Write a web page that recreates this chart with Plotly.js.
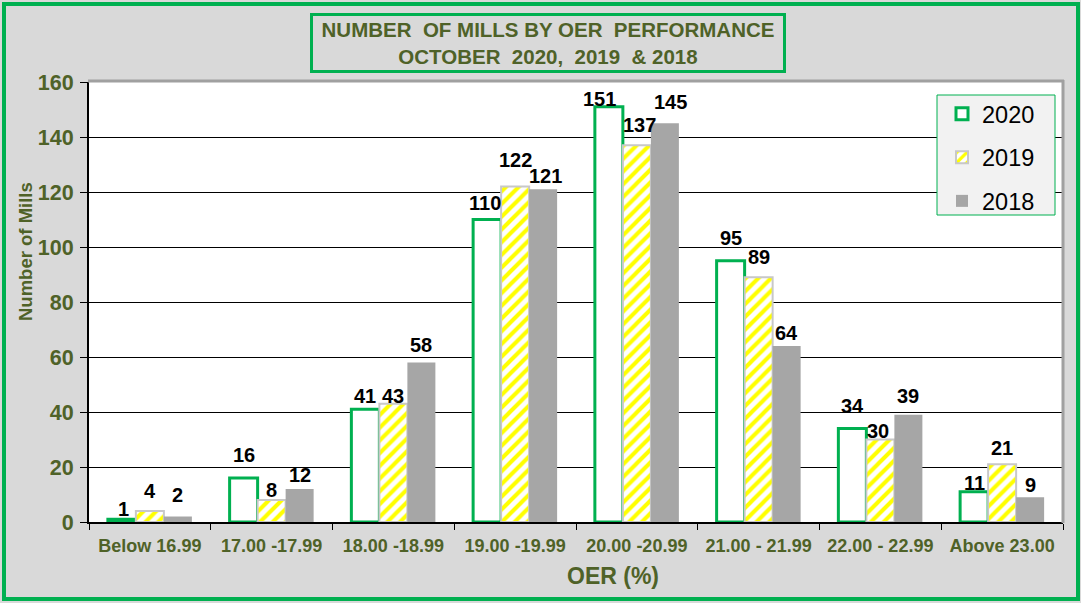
<!DOCTYPE html>
<html>
<head>
<meta charset="utf-8">
<script src="https://cdn.plot.ly/plotly-3.0.1.min.js"></script>
<style>
html,body{margin:0;padding:0;background:#d9d9d9;}
#chart{width:1081px;height:603px;}
</style>
</head>
<body>
<div id="chart"></div>
<script>
const categories = ["Below 16.99", "17.00 -17.99", "18.00 -18.99", "19.00 -19.99", "20.00 -20.99", "21.00 - 21.99", "22.00 - 22.99", "Above 23.00"];
const values2020 = [1, 16, 41, 110, 151, 95, 34, 11];
const values2019 = [4, 8, 43, 122, 137, 89, 30, 21];
const values2018 = [2, 12, 58, 121, 145, 64, 39, 9];
const seriesNames = ["2020", "2019", "2018"];
const yTicks = [0, 20, 40, 60, 80, 100, 120, 140, 160];

// label placement (style): pixels the label centre sits above its bar top, and sideways nudges
const labelLift2020 = [10, 23, 13, 17, 8, 23, 23, 9];
const labelLift2019 = [20, 10, 8, 27, 20, 20, 9, 16];
const labelLift2018 = [22, 14, 18, 13, 21, 13, 19, 12];
const labelNudge2020 = [2, 0, 0, -2, -9, 0, 0, 0];
const labelNudge2019 = [0, 0, 0, 0, 3, 0, -2, 0];
const labelNudge2018 = [0, 0, 0, 2, 6, 0, 0, 0];

const W = 1081, H = 603;
const L = 89, R = 18, T = 82, B = 81;
const PW = W - L - R, PH = H - T - B;
const px = x => (x - L) / PW;
const py = y => (H - B - y) / PH;
const BARGAP = 0.31;
const barPx = PW / categories.length * (1 - BARGAP) / 3;

const olive = '#4f6228';
const green = '#00b050';
const FF = 'Arial, Liberation Sans, sans-serif';
const labelFont = {family: FF, size: 20, color: '#000000', weight: 'bold'};

const traces = [
  {type: 'bar', x: categories, y: values2020, name: seriesNames[0], legendgroup: 'a', hoverinfo: 'skip',
   marker: {color: '#ffffff', line: {color: green, width: 3}}},
  {type: 'bar', x: categories, y: values2019, name: seriesNames[1], legendgroup: 'b', hoverinfo: 'skip',
   marker: {color: '#ffff00', line: {color: '#c8c8c8', width: 2},
     pattern: {shape: '/', fgcolor: '#ffff00', bgcolor: '#ffffff', size: 9, solidity: 0.45}}},
  {type: 'bar', x: categories, y: values2018, name: seriesNames[2], legendgroup: 'c', hoverinfo: 'skip',
   marker: {color: '#a6a6a6', line: {width: 0}}}
];

const labelAnns = [];
[[values2020, labelLift2020, labelNudge2020], [values2019, labelLift2019, labelNudge2019], [values2018, labelLift2018, labelNudge2018]]
  .forEach(([vals, lifts, nudges], k) => {
    vals.forEach((v, i) => {
      labelAnns.push({
        xref: 'x', yref: 'y', x: categories[i], y: v, text: String(v), showarrow: false,
        xanchor: 'center', yanchor: 'middle',
        xshift: (k - 1) * barPx + nudges[i], yshift: lifts[i],
        font: labelFont
      });
    });
  });

const layout = {
  width: W, height: H,
  margin: {l: L, r: R, t: T, b: B, pad: 0},
  paper_bgcolor: '#d9d9d9', plot_bgcolor: '#ffffff',
  font: {family: FF, color: olive},
  barmode: 'group', bargap: BARGAP, bargroupgap: 0,
  showlegend: true,
  legend: {
    x: px(942), y: py(92), xanchor: 'left', yanchor: 'top',
    bgcolor: 'rgba(0,0,0,0)', borderwidth: 0,
    font: {family: FF, size: 23.5, color: '#000000'},
    traceorder: 'grouped', tracegroupgap: 10, itemwidth: 30
  },
  xaxis: {
    type: 'category', showgrid: false, showline: true, linecolor: '#000000', linewidth: 2,
    ticks: 'outside', tickson: 'boundaries', ticklen: 6, tickcolor: '#000000', tickwidth: 1,
    ticklabelstandoff: 6,
    tickfont: {family: FF, size: 18, color: olive, weight: 'bold'},
    fixedrange: true
  },
  yaxis: {
    range: [0, 160], tickvals: yTicks, ticktext: yTicks.map(String),
    showgrid: true, gridcolor: '#000000', gridwidth: 1, zeroline: false,
    showline: true, linecolor: '#000000', linewidth: 2,
    ticks: 'outside', ticklen: 7, tickcolor: '#000000', tickwidth: 1,
    ticklabelstandoff: 2,
    tickfont: {family: FF, size: 21.5, color: olive, weight: 'bold'},
    fixedrange: true
  },
  shapes: [
    {type: 'rect', xref: 'paper', yref: 'paper', x0: px(4), x1: px(1078), y0: py(4), y1: py(599),
     line: {color: green, width: 4}, fillcolor: 'rgba(0,0,0,0)', layer: 'above'},
    {type: 'line', xref: 'paper', yref: 'paper', x0: px(88), x1: px(1064), y0: py(81), y1: py(81),
     line: {color: '#a0a0a0', width: 3}, layer: 'above'},
    {type: 'line', xref: 'paper', yref: 'paper', x0: px(1063), x1: px(1063), y0: py(80), y1: py(523),
     line: {color: '#a0a0a0', width: 3}, layer: 'above'},
    {type: 'rect', xref: 'paper', yref: 'paper', x0: px(937), x1: px(1055), y0: py(95), y1: py(215),
     line: {color: green, width: 1}, fillcolor: '#f2f2f2', layer: 'above'}
  ],
  annotations: labelAnns.concat([
    {xref: 'paper', yref: 'paper', x: px(548), y: py(43), xanchor: 'center', yanchor: 'middle',
     text: 'NUMBER&nbsp; OF MILLS BY OER&nbsp; PERFORMANCE<br>OCTOBER&nbsp; 2020,&nbsp; 2019&nbsp; &amp; 2018',
     showarrow: false, width: 470, height: 54, borderpad: 0,
     bordercolor: green, borderwidth: 3, bgcolor: '#d9d9d9',
     font: {family: FF, size: 20.5, color: olive, weight: 'bold'}},
    {xref: 'paper', yref: 'paper', x: px(613), y: py(576), xanchor: 'center', yanchor: 'middle',
     text: 'OER (%)', showarrow: false,
     font: {family: FF, size: 23, color: olive, weight: 'bold'}},
    {xref: 'paper', yref: 'paper', x: px(25), y: py(252), xanchor: 'center', yanchor: 'middle',
     text: 'Number of Mills', showarrow: false, textangle: -90,
     font: {family: FF, size: 18.5, color: olive, weight: 'bold'}}
  ])
};

Plotly.newPlot('chart', traces, layout, {displayModeBar: false, staticPlot: true});
</script>
</body>
</html>
